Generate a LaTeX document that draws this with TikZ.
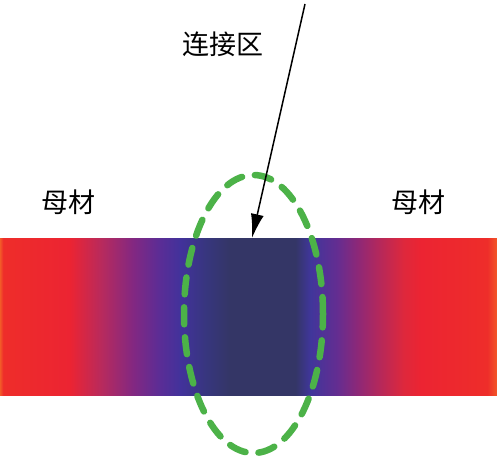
\documentclass[tikz,border=0pt]{standalone}
\usepackage{fontspec}
\newfontfamily\cjk{Noto Sans CJK SC}
\usetikzlibrary{arrows.meta,shapes.geometric}
\definecolor{cA}{RGB}{242,88,40}
\definecolor{cR}{RGB}{238,45,42}
\definecolor{cR2}{RGB}{236,36,50}
\definecolor{cC}{RGB}{185,42,92}
\definecolor{cP}{RGB}{130,40,130}
\definecolor{cP2}{RGB}{90,45,150}
\definecolor{cB}{RGB}{66,50,155}
\definecolor{cB2}{RGB}{55,54,125}
\definecolor{cN}{RGB}{52,54,102}
\definecolor{cBr}{RGB}{64,54,155}
\definecolor{cPr}{RGB}{100,45,145}
\definecolor{cMr}{RGB}{140,40,120}
\definecolor{cCr}{RGB}{182,40,90}
\definecolor{cDr}{RGB}{222,40,60}
\definecolor{ringgreen}{RGB}{76,178,72}
% stops: bp = 25 + 50*x/497
\pgfdeclarehorizontalshading{bandshade}{100bp}{%
color(0bp)=(cA); color(25bp)=(cA);
color(25.3bp)=(cR); color(32bp)=(cR2);
color(35.1bp)=(cC); color(38.4bp)=(cP);
color(41.1bp)=(cP2); color(43.1bp)=(cB);
color(45.8bp)=(cB2); color(48.1bp)=(cN);
color(54.7bp)=(cN); color(56.2bp)=(cBr);
color(58.9bp)=(cPr); color(60.9bp)=(cMr);
color(63.2bp)=(cCr); color(65.6bp)=(cDr);
color(67.3bp)=(cR2); color(74bp)=(cR);
color(75bp)=(cA); color(100bp)=(cA)}
\tikzset{
  lbl/.style={font=\cjk\fontsize{27}{30}\selectfont, inner sep=0pt, text=black},
  ring/.style={draw=ringgreen, line width=6.5pt, dash pattern=on 17pt off 13pt, line cap=round},
  pointer/.style={draw=black, line width=1.5pt, -{Latex[length=24pt,width=13pt]}}
}
\begin{document}
\begin{tikzpicture}[x=1pt,y=-1pt]
\useasboundingbox (0,0) rectangle (497,466);
\fill[white] (0,0) rectangle (497,466);
\node[draw=none, shading=bandshade, minimum width=497pt, minimum height=157pt, inner sep=0pt, anchor=north west] (band) at (0,238) {};
\node[ring, ellipse, minimum width=139pt, minimum height=278pt, inner sep=0pt] (zone) at (253.5,314) {};
\coordinate (top) at (305,4);
\coordinate (tip) at (252,238);
\draw[pointer] (top) -- (tip);
\node[lbl] (lconn) at (223,44) {连接区};
\node[lbl] (lleft) at (68,202) {母材};
\node[lbl] (lright) at (418,202) {母材};
\end{tikzpicture}
\end{document}
